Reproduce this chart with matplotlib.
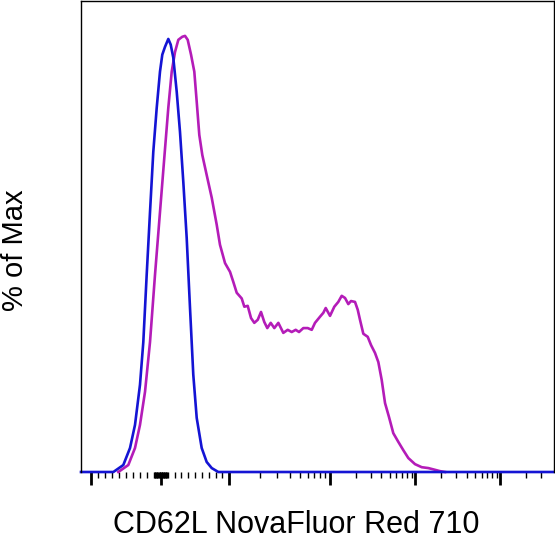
import numpy as np
import matplotlib
matplotlib.use("Agg")
import matplotlib.pyplot as plt

# histogram traces, x in display channels (0-1024), y in % of max
blue_x = [0, 70, 91.6, 106.1, 116.9, 127.7, 134.9, 142.2, 149.4, 156.5, 163.9, 171.0, 176.0,
          181.9, 189.0, 194.2, 199.8, 207.2, 214.3, 221.5, 228.8, 236.0, 243.1, 250.5, 261.3,
          272.1, 283.0, 297.3, 1024]
blue_y = [0, 0, 1.6, 5.5, 10.8, 20.0, 29.8, 45.2, 59.6, 73.4, 83.5, 91.8, 95.7,
          97.5, 99.3, 98.0, 95.0, 87.2, 78.0, 66.5, 53.7, 37.6, 22.3, 12.4, 5.5,
          2.3, 0.9, 0, 0]

magenta_x = [80.8, 102.4, 116.9, 127.7, 138.6, 149.4, 160.2, 171.0, 180.3, 189.0, 196.4, 203.5,
             210.7, 219.3, 225.2, 231.0, 238.2, 245.3, 250.5, 256.1, 262.6, 272.1, 283.0, 293.8,
             300.9, 311.8, 322.6, 329.7, 337.1, 347.9, 353.6, 360.9, 368.1, 375.2, 382.6, 389.7,
             396.8, 403.3, 410.7, 418.5, 427.2, 438.0, 447.5, 456.2, 464.8, 472.0, 481.3, 490.8,
             499.5, 506.6, 517.4, 524.6, 529.8, 539.1, 548.4, 557.0, 564.4, 571.6, 578.7, 584.6,
             593.2, 599.1, 604.0, 611.2, 620.7, 627.9, 636.5, 643.7, 651.0, 658.2, 666.8, 676.1,
             687.0, 697.8, 708.6, 723.1, 737.6, 751.9, 766.4, 777.2, 788.1]
magenta_y = [0, 1.6, 5.5, 10.8, 18.4, 29.8, 45.2, 59.6, 72.0, 83.5, 91.8, 96.3,
             99.1, 99.8, 100, 99.1, 95.7, 91.8, 84.9, 77.3, 72.7, 68.1, 62.9, 56.7,
             52.1, 47.9, 45.9, 43.6, 41.1, 39.8, 37.9, 38.1, 35.3, 34.2, 34.9, 36.7,
             34.4, 33.0, 34.2, 33.0, 34.2, 31.9, 32.6, 32.1, 32.6, 32.1, 33.0, 33.0,
             32.6, 34.2, 35.6, 36.5, 37.6, 35.8, 37.9, 39.0, 40.4, 39.9, 38.5, 39.2,
             39.0, 37.2, 34.9, 31.7, 31.0, 29.1, 27.3, 25.2, 21.1, 15.8, 12.6, 8.9,
             6.9, 5.0, 3.2, 1.8, 1.1, 0.9, 0.5, 0.2, 0]

# biex-like axis: linear below 10^3, log above; decade positions in channels
decade_u = [-1, 0, 1, 2, 3, 4, 5]
decade_chan = [21, 173, 321, 539, 724, 908, 1092]

major_vals = [-1e3, 0, 1e3, 1e4, 1e5, 1e6]
minor_vals = ([-k * 100 for k in range(1, 10)] + [-k * 10 for k in range(1, 10)]
              + [k * 10 for k in range(1, 10)] + [k * 100 for k in range(1, 10)]
              + [k * 10 ** d for d in (3, 4, 5) for k in range(2, 10)] + [2e6, 3e6])


def lin_log(v):
    v = np.asarray(v, dtype=float)
    a = np.abs(v)
    return np.where(a <= 1000, v / 1000, np.sign(v) * (1 + np.log10(np.maximum(a, 1e-9) / 1000)))


def to_channel(v):
    return np.interp(lin_log(v), decade_u, decade_chan)


fig = plt.figure(figsize=(5.55, 5.41), dpi=100)
ax = fig.add_axes([81 / 555, 69 / 541, 473 / 555, 471 / 541])

ax.plot(magenta_x, magenta_y, color="#b41cb8", lw=1.9, clip_on=False, solid_joinstyle="round")
ax.plot(blue_x, blue_y, color="#1414d4", lw=1.9, clip_on=False, solid_joinstyle="round")

ax.set_xlim(0, 1024)
ax.set_ylim(0, 108)

ax.set_xticks(to_channel(major_vals))
ax.set_xticks(to_channel(minor_vals), minor=True)
ax.set_xticklabels([])
ax.set_yticks([])
ax.tick_params(axis="x", which="major", direction="out", length=9.5, width=2.0, color="black")
ax.tick_params(axis="x", which="minor", direction="out", length=4.6, width=1.0, color="black")

for side in ["left", "top", "right"]:
    ax.spines[side].set_linewidth(1.0)
ax.spines["bottom"].set_visible(False)

fig.text(296 / 555, 1 / 541, "CD62L NovaFluor Red 710", ha="center", va="bottom",
         fontsize=22, family="Liberation Sans")
fig.text(1 / 555, 1 - 250 / 541, "% of Max", ha="left", va="center", rotation=90,
         fontsize=21, family="Liberation Sans")

fig.savefig("out.png", dpi=100)
